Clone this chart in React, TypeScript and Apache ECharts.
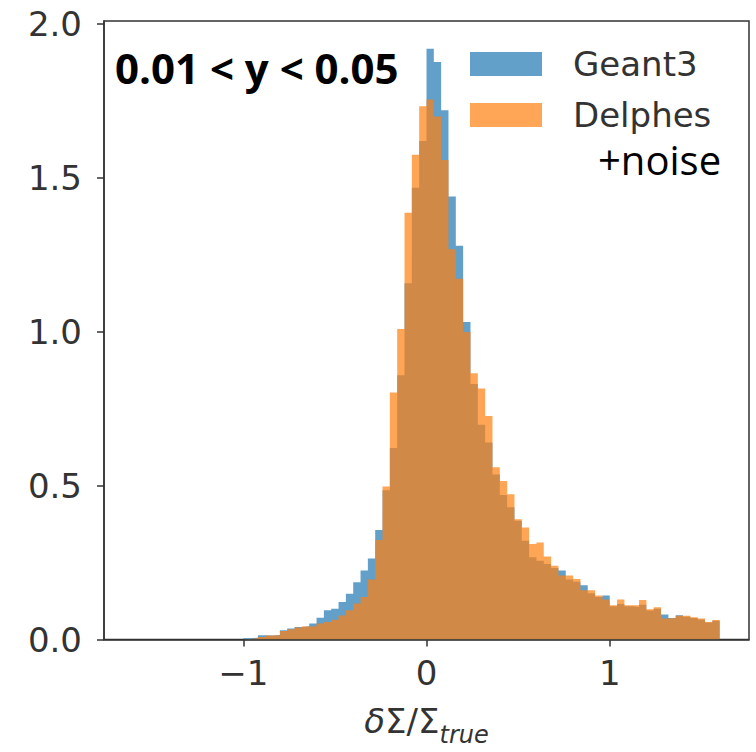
import React, { useEffect, useRef } from "react";
import * as echarts from "echarts";

// Histogram bins: 80 bins of width 0.04 starting at -1.6
const BIN_START = -1.6;
const BIN_WIDTH = 0.04;
const BIN_COUNT = 80;

// Density values per bin (first 15 bins, -1.6 .. -1.0, are empty)
const geant3: number[] = [
  0, 0, 0, 0, 0, 0, 0, 0, 0, 0, 0, 0, 0, 0, 0,
  0.004, 0.006, 0.014, 0.013, 0.015, 0.030, 0.036, 0.041, 0.043, 0.052,
  0.071, 0.095, 0.100, 0.122, 0.149, 0.186, 0.224, 0.263, 0.356, 0.485,
  0.622, 0.859, 1.158, 1.468, 1.62, 1.92, 1.877, 1.72, 1.44, 1.28,
  1.032, 0.83, 0.698, 0.64, 0.536, 0.47, 0.43, 0.386, 0.321, 0.267,
  0.256, 0.245, 0.232, 0.224, 0.195, 0.188, 0.176, 0.15, 0.138, 0.143,
  0.108, 0.115, 0.108, 0.106, 0.113, 0.094, 0.100, 0.081, 0.070, 0.079,
  0.074, 0.070, 0.065, 0.055, 0.061,
];

const delphes: number[] = [
  0, 0, 0, 0, 0, 0, 0, 0, 0, 0, 0, 0, 0, 0, 0,
  0.002, 0.004, 0.008, 0.013, 0.014, 0.028, 0.033, 0.039, 0.042, 0.043,
  0.052, 0.057, 0.064, 0.078, 0.095, 0.117, 0.138, 0.195, 0.323, 0.497,
  0.803, 1.009, 1.387, 1.575, 1.733, 1.755, 1.70, 1.558, 1.268, 1.172,
  0.999, 0.865, 0.816, 0.726, 0.56, 0.515, 0.472, 0.391, 0.364, 0.31,
  0.315, 0.27, 0.24, 0.208, 0.208, 0.197, 0.160, 0.16, 0.143, 0.130,
  0.111, 0.130, 0.111, 0.111, 0.128, 0.098, 0.105, 0.068, 0.070, 0.077,
  0.077, 0.072, 0.068, 0.057, 0.063,
];

const xTicks = [-1, 0, 1];
const yTicks = [0, 0.5, 1.0, 1.5, 2.0];
const seriesNames = ["Geant3", "Delphes"];
const annotation = "0.01 < y < 0.05";
const legendExtra = "+noise";

function stepData(values: number[]): [number, number][] {
  const pts: [number, number][] = [];
  for (let i = 0; i < BIN_COUNT; i++) {
    pts.push([+(BIN_START + i * BIN_WIDTH).toFixed(4), values[i]]);
  }
  pts.push([+(BIN_START + BIN_COUNT * BIN_WIDTH).toFixed(4), values[BIN_COUNT - 1]]);
  return pts;
}

const TICK_FONT = "'DejaVu Sans', sans-serif";
const AXIS_COLOR = "#333";

export default function App() {
  const ref = useRef<HTMLDivElement>(null);

  useEffect(() => {
    if (!ref.current) return;
    const chart = echarts.init(ref.current, undefined, { renderer: "svg" });
    const option: any = {
      animation: false,
      backgroundColor: "#fff",
      grid: {
        left: 104,
        right: 7,
        top: 21,
        bottom: 109,
        show: true,
        borderColor: AXIS_COLOR,
        borderWidth: 1.5,
        backgroundColor: "transparent",
      },
      xAxis: {
        type: "value",
        min: -1.76,
        max: 1.76,
        splitLine: { show: false },
        axisLine: { show: true, onZero: false, lineStyle: { color: AXIS_COLOR, width: 1.5 } },
        axisTick: {
          show: true,
          length: 7,
          customValues: xTicks,
          lineStyle: { color: AXIS_COLOR, width: 1.5 },
        },
        axisLabel: {
          customValues: xTicks,
          margin: 16,
          fontSize: 34,
          fontFamily: TICK_FONT,
          color: AXIS_COLOR,
          formatter: (v: number) => (v < 0 ? "\u2212" + Math.abs(v) : String(v)),
        },
        name: "{m|δ}{n|Σ/Σ}{s|true}",
        nameLocation: "middle",
        nameGap: 64,
        nameTextStyle: {
          rich: {
            m: {
              fontSize: 34,
              fontFamily: TICK_FONT,
              fontStyle: "italic",
              color: AXIS_COLOR,
              lineHeight: 40,
              verticalAlign: "top",
            },
            n: {
              fontSize: 34,
              fontFamily: TICK_FONT,
              color: AXIS_COLOR,
              lineHeight: 40,
              verticalAlign: "top",
            },
            s: {
              fontSize: 24,
              fontFamily: TICK_FONT,
              fontStyle: "italic",
              color: AXIS_COLOR,
              lineHeight: 63,
              verticalAlign: "middle",
            },
          },
        },
      },
      yAxis: {
        type: "value",
        min: 0,
        max: 2.01,
        splitLine: { show: false },
        axisLine: { show: true, onZero: false, lineStyle: { color: AXIS_COLOR, width: 1.5 } },
        axisTick: {
          show: true,
          length: 7,
          customValues: yTicks,
          lineStyle: { color: AXIS_COLOR, width: 1.5 },
        },
        axisLabel: {
          customValues: yTicks,
          margin: 22,
          fontSize: 34,
          fontFamily: TICK_FONT,
          color: AXIS_COLOR,
          formatter: (v: number) => v.toFixed(1),
        },
      },
      legend: {
        orient: "vertical",
        left: 470,
        top: 47,
        padding: 0,
        itemGap: 17,
        itemWidth: 72,
        itemHeight: 24,
        icon: "rect",
        selectedMode: false,
        textStyle: {
          fontSize: 34,
          fontFamily: TICK_FONT,
          color: AXIS_COLOR,
          lineHeight: 34,
          padding: [0, 0, 0, 26],
        },
        data: [
          { name: seriesNames[0], itemStyle: { color: "rgba(31,119,180,0.7)" } },
          { name: seriesNames[1], itemStyle: { color: "rgba(255,127,14,0.7)" } },
        ],
      },
      graphic: [
        {
          type: "text",
          left: 115,
          top: 46,
          silent: true,
          style: {
            text: annotation,
            font: "bold 42px 'Open Sans', sans-serif",
            fill: "#000",
          },
        },
        {
          type: "text",
          left: 598,
          top: 139,
          silent: true,
          style: {
            text: legendExtra,
            font: "40px 'Open Sans', sans-serif",
            lineHeight: 30,
            fill: "#000",
          },
        },
      ],
      series: [
        {
          name: seriesNames[0],
          type: "line",
          step: "end",
          data: stepData(geant3),
          showSymbol: false,
          silent: true,
          color: "#1f77b4",
          lineStyle: { width: 0 },
          areaStyle: { color: "#1f77b4", opacity: 0.7 },
          z: 1,
        },
        {
          name: seriesNames[1],
          type: "line",
          step: "end",
          data: stepData(delphes),
          showSymbol: false,
          silent: true,
          color: "#ff7f0e",
          lineStyle: { width: 0 },
          areaStyle: { color: "#ff7f0e", opacity: 0.7 },
          z: 2,
        },
      ],
    };
    chart.setOption(option);
    return () => chart.dispose();
  }, []);

  return (
    <div
      ref={ref}
      style={{ position: "absolute", left: 0, top: 0, width: 756, height: 752 }}
    />
  );
}
